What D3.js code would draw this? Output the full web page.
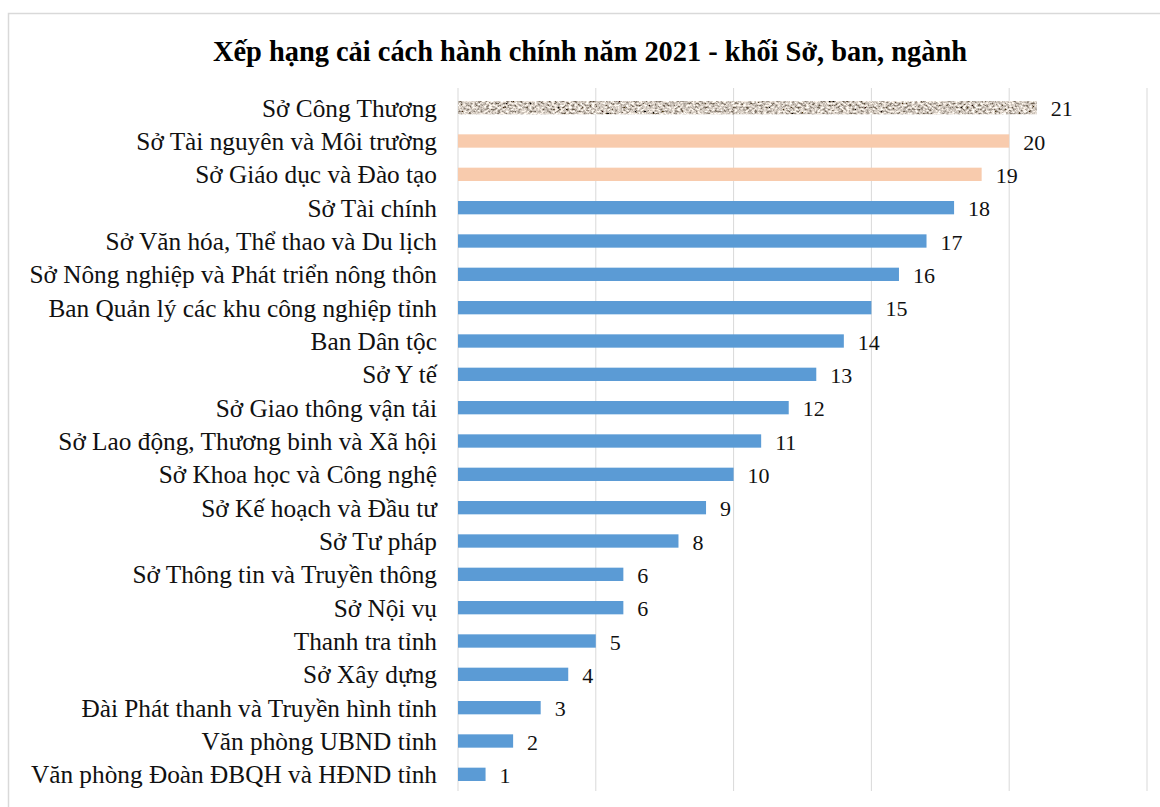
<!DOCTYPE html>
<html>
<head>
<meta charset="utf-8">
<script src="https://cdn.jsdelivr.net/npm/d3@7"></script>
<style>
  body { margin: 0; background: #fff; }
  svg { display: block; }
</style>
</head>
<body>
<div id="plotContainer"></div>
<script>
// categories, top to bottom
const units = ["Sở Công Thương", "Sở Tài nguyên và Môi trường", "Sở Giáo dục và Đào tạo",
  "Sở Tài chính", "Sở Văn hóa, Thể thao và Du lịch", "Sở Nông nghiệp và Phát triển nông thôn",
  "Ban Quản lý các khu công nghiệp tỉnh", "Ban Dân tộc", "Sở Y tế", "Sở Giao thông vận tải",
  "Sở Lao động, Thương binh và Xã hội", "Sở Khoa học và Công nghệ", "Sở Kế hoạch và Đầu tư",
  "Sở Tư pháp", "Sở Thông tin và Truyền thông", "Sở Nội vụ", "Thanh tra tỉnh", "Sở Xây dựng",
  "Đài Phát thanh và Truyền hình tỉnh", "Văn phòng UBND tỉnh", "Văn phòng Đoàn ĐBQH và HĐND tỉnh"];
const scores = [21, 20, 19, 18, 17, 16, 15, 14, 13, 12, 11, 10, 9, 8, 6, 6, 5, 4, 3, 2, 1];
const xTicks = [0, 5, 10, 15, 20, 25];

const W = 1160, H = 807;
const margin = {top: 91, right: 13, bottom: 16, left: 458};
const width = 1147 - margin.left;
const serif = "'Liberation Serif', 'Times New Roman', serif";

const svg = d3.select("#plotContainer")
  .append("svg")
    .attr("width", W)
    .attr("height", H);

// granite texture for the first bar
const defs = svg.append("defs");
const f = defs.append("filter").attr("id", "granite")
  .attr("x", 0).attr("y", 0).attr("width", 1).attr("height", 1);
f.append("feTurbulence").attr("type", "fractalNoise")
  .attr("baseFrequency", "0.35 0.5").attr("numOctaves", 3).attr("seed", 7).attr("result", "n");
f.append("feColorMatrix").attr("in", "n").attr("type", "matrix")
  .attr("values", "2.0 0 0 0 -0.36  1.9 0 0 0 -0.37  1.8 0 0 0 -0.38  0 0 0 0 1")
  .attr("result", "stone");
f.append("feComposite").attr("in", "stone").attr("in2", "SourceGraphic").attr("operator", "in");

// chart frame
svg.append("rect")
  .attr("x", 8.5).attr("y", 13.5)
  .attr("width", W + 10).attr("height", H + 10)
  .attr("fill", "none").attr("stroke", "#d9d9d9").attr("stroke-width", 1.5);

svg.append("text")
  .attr("x", 590).attr("y", 61)
  .attr("text-anchor", "middle")
  .style("font-family", serif)
  .style("font-weight", "bold")
  .style("font-size", "28.4px")
  .text("Xếp hạng cải cách hành chính năm 2021 - khối Sở, ban, ngành");

const g = svg.append("g").attr("transform", `translate(${margin.left},${margin.top})`);

const x = d3.scaleLinear().domain([0, 25]).range([0, width]);
const y = d3.scaleBand().domain(units).range([0, 700]).paddingInner(0.6).paddingOuter(0.3);

// gridlines
g.append("g")
  .selectAll("line")
  .data(xTicks)
  .join("line")
    .attr("x1", d => x(d)).attr("x2", d => x(d))
    .attr("y1", -3).attr("y2", 700)
    .attr("stroke", "#d9d9d9").attr("stroke-width", 1);

const barColor = (d, i) => i === 0 ? "#a99e92" : (i < 3 ? "#f8cbad" : "#5b9bd5");

g.append("g")
  .selectAll("rect")
  .data(scores)
  .join("rect")
    .attr("x", x(0))
    .attr("y", (d, i) => y(units[i]))
    .attr("width", d => x(d) - x(0))
    .attr("height", y.bandwidth())
    .attr("fill", barColor)
    .attr("filter", (d, i) => i === 0 ? "url(#granite)" : null);

// value labels
g.append("g")
  .selectAll("text")
  .data(scores)
  .join("text")
    .attr("x", d => x(d) + 14)
    .attr("y", (d, i) => y(units[i]) + y.bandwidth() / 2 + 8.5)
    .style("font-family", serif)
    .style("font-size", "22px")
    .attr("fill", "#111")
    .text(d => d);

// category labels
g.append("g")
  .selectAll("text")
  .data(units)
  .join("text")
    .attr("x", -21)
    .attr("y", d => y(d) + y.bandwidth() / 2 + 9)
    .attr("text-anchor", "end")
    .style("font-family", serif)
    .style("font-size", "25.3px")
    .attr("fill", "#111")
    .text(d => d);
</script>
</body>
</html>
